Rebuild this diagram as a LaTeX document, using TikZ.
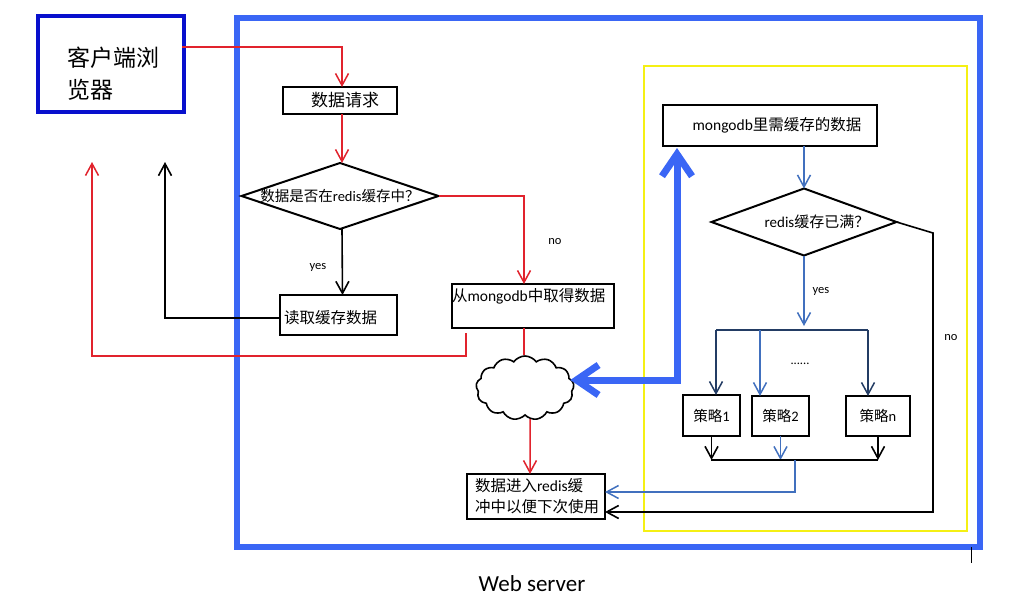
\documentclass[tikz,border=0pt]{standalone}
\usepackage{fontspec}
\setmainfont{Carlito}
\newfontfamily\cj{Noto Sans CJK SC}
\usetikzlibrary{arrows.meta,shapes.geometric,shapes.symbols}
\definecolor{framebl}{RGB}{58,102,245}
\definecolor{clientbl}{RGB}{8,16,205}
\definecolor{myred}{RGB}{225,35,45}
\definecolor{ylw}{RGB}{245,240,20}
\definecolor{thinbl}{RGB}{65,112,190}
\definecolor{darkbl}{RGB}{35,60,100}
\begin{document}
\begin{tikzpicture}[x=1pt,y=-1pt,
  boxnode/.style={draw, line width=2pt, inner sep=0, outer sep=0},
  dia/.style={diamond, draw, line width=2pt, inner sep=0, outer sep=0},
  lbl/.style={inner sep=0, outer sep=0},
  tip/.style={-{Straight Barb[length=12pt,width=13pt]}},
  redarr/.style={draw=myred, line width=1.5pt, tip},
  redline/.style={draw=myred, line width=1.5pt},
  blkarr/.style={draw=black, line width=1.6pt, tip},
  blkline/.style={draw=black, line width=1.6pt},
  bluarr/.style={draw=thinbl, line width=1.5pt, tip},
  dblarr/.style={draw=darkbl, line width=1.5pt, tip},
  dblline/.style={draw=darkbl, line width=1.6pt},
  small/.style={lbl, font=\fontsize{12.5}{15}\selectfont}
]
\useasboundingbox (0,0) rectangle (1029,610);

% frames
\node[draw=framebl, line width=6pt, minimum width=743, minimum height=529, inner sep=0] (frame) at (608.5,282.5) {};
\node[draw=ylw, line width=2pt, minimum width=323, minimum height=465, inner sep=0] (yellowbox) at (805.5,298.5) {};
\draw[line width=0.8pt] (971,547) -- (971,563);
\node[lbl, font=\fontsize{23}{27}\selectfont] (webserver) at (532,584) {Web server};

% client
\node[draw=clientbl, line width=4pt, minimum width=146, minimum height=96, inner sep=0] (client) at (111,64) {};
\node[lbl, anchor=west, align=left, font=\cj\fontsize{23}{32}\selectfont] (clienttxt) at (67,74) {客户端浏\\览器};

% left flow
\node[boxnode, minimum width=114, minimum height=27] (req) at (340,100.5) {};
\node[lbl, font=\cj\fontsize{17}{20}\selectfont] (reqtxt) at (345,100) {数据请求};

\node[dia, minimum width=197, minimum height=66] (d1) at (340,196) {};
\node[lbl, font=\fontsize{14.5}{17}\selectfont] (d1txt) at (340,196) {{\cj 数据是否在}redis{\cj 缓存中？}};

\node[boxnode, minimum width=117, minimum height=40] (read) at (338.5,315) {};
\node[lbl, anchor=west, font=\cj\fontsize{15.5}{18}\selectfont] (readtxt) at (284,318) {读取缓存数据};

\node[boxnode, minimum width=162, minimum height=44] (fetch) at (533,306) {};
\node[lbl, anchor=west, font=\fontsize{15.5}{18}\selectfont] (fetchtxt) at (452,296) {{\cj 从}mongodb{\cj 中取得数据}};

\node[cloud, draw, line width=1.6pt, cloud puffs=13, cloud puff arc=110, aspect=1.5, minimum width=98, minimum height=64, inner sep=0] (cloud) at (525,388) {};

\node[boxnode, minimum width=138, minimum height=45] (store) at (536,496.5) {};
\node[lbl, anchor=west, align=left, font=\fontsize{15.5}{21}\selectfont] (storetxt) at (475,496.5) {{\cj 数据进入}redis{\cj 缓}\\{\cj 冲中以便下次使用}};

% right flow
\node[boxnode, minimum width=214, minimum height=41] (mongo) at (770,125.5) {};
\node[lbl, font=\fontsize{15.5}{18}\selectfont] (mongotxt) at (777,125) {mongodb{\cj 里需缓存的数据}};

\node[dia, minimum width=185, minimum height=67] (d2) at (804,222) {};
\node[lbl, font=\fontsize{15}{18}\selectfont] (d2txt) at (817,222) {redis{\cj 缓存已满？}};

\node[boxnode, minimum width=57, minimum height=41, font=\fontsize{14.5}{17}\selectfont] (s1) at (711.5,415.5) {{\cj 策略}1};
\node[boxnode, minimum width=57, minimum height=40, font=\fontsize{14.5}{17}\selectfont] (s2) at (780.5,416) {{\cj 策略}2};
\node[boxnode, minimum width=64, minimum height=40, font=\fontsize{14.5}{17}\selectfont] (sn) at (878,416) {{\cj 策略}n};

% labels
\node[small] (no1) at (555,242) {no};
\node[small] (yes1) at (318,267) {yes};
\node[small] (yes2) at (821,291) {yes};
\node[small] (no2) at (951,338) {no};
\node[small] (dots) at (800,364) {......};

% coordinates
\coordinate (blackend) at (165,162);
\coordinate (redturn) at (92,356);
\coordinate (redend) at (92,162);
\coordinate (yesend) at (804,326);
\coordinate (bl) at (716,330);
\coordinate (bm) at (760,330);
\coordinate (br) at (868,330);
\coordinate (jl) at (711,460);
\coordinate (jm) at (795,460);
\coordinate (jr) at (878,460);
\coordinate (noc) at (933,233);

% left connectors
\draw[redarr] ([yshift=17pt,xshift=-4pt]client.east) -| ([xshift=2pt]req.north);
\draw[redarr] ([xshift=2pt]req.south) -- ([xshift=2pt]d1.north);
\draw[redarr] (d1.east) -| ([xshift=-9pt]fetch.north);
\draw[blkarr] ([xshift=2pt]d1.south) -- ([xshift=4pt]read.north);
\draw[blkarr] ([yshift=-3pt]read.west) -| (blackend);
\draw[redarr] ([xshift=-67pt,yshift=-5pt]fetch.south) |- (redturn) -- (redend);
\draw[redline] ([xshift=-9pt]fetch.south) -- ([xshift=-1pt]cloud.north);
\draw[redarr] ([xshift=5pt,yshift=-3pt]cloud.south) -- ([xshift=-6pt]store.north);

% thick blue double arrow
\draw[draw=framebl, line width=7pt, line cap=round,
  {Straight Barb[length=22pt,width=30pt]}-{Straight Barb[length=22pt,width=30pt]}]
  ([xshift=-93pt,yshift=-2pt]mongo.south) |- ([yshift=8pt,xshift=-4pt]cloud.east);

% right connectors
\draw[bluarr] (d2.north |- mongo.south) -- (d2.north);
\draw[bluarr] (d2.south) -- (yesend);
\draw[dblline] (bl) -- (br);
\draw[dblarr] (bl) -- (bl |- s1.north);
\draw[bluarr] (bm) -- (bm |- s2.north);
\draw[dblarr] (br) -- (br |- sn.north);
\draw[blkarr] (s1.south) -- (s1.south |- jl);
\draw[bluarr] (s2.south) -- (s2.south |- jl);
\draw[blkarr] (sn.south) -- (sn.south |- jl);
\draw[blkline] (jl) -- (jr);
\draw[bluarr] (jm) |- ([yshift=4.5pt]store.east);
\draw[blkarr] (d2.east) -- (noc) |- ([yshift=-15.5pt]store.east);
\end{tikzpicture}
\end{document}
